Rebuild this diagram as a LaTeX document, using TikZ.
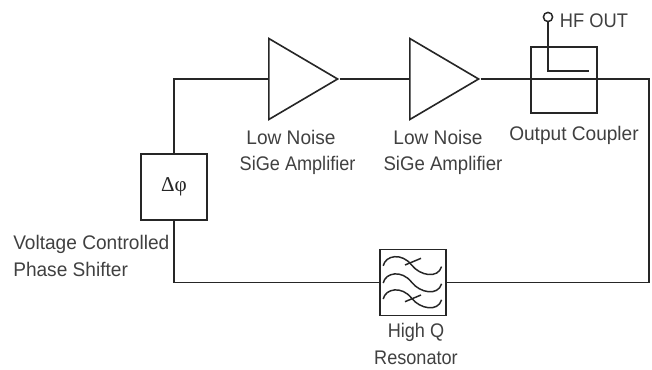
\documentclass[tikz,border=0pt]{standalone}
\usepackage{fontspec}
\usepackage{graphicx}
\setmainfont{Liberation Sans}
\newfontfamily\serifsym{Liberation Serif}
\usetikzlibrary{shapes.geometric}
\newcommand{\narrowtext}[2]{\scalebox{#1}[1]{#2}}
\tikzset{
  wire/.style={line width=1.05pt, black!85},
  blockbox/.style={draw, line width=1.15pt, black!85, minimum size=1.65cm, inner sep=0pt},
  amp/.style={draw, line width=1.15pt, black!85, isosceles triangle, isosceles triangle stretches, minimum width=2.025cm, minimum height=1.72cm, inner sep=0pt, anchor=lower side},
  caption/.style={black!75, align=center, inner sep=0pt, font=\fontsize{14}{19}\selectfont},
  ampcaption/.style={caption, anchor=base}
}
\begin{document}
\begin{tikzpicture}
  \useasboundingbox (0,0) rectangle (16.3,9.225);
  \node[blockbox] (phase) at (4.35, 4.55) {\fontsize{15}{15}\selectfont\serifsym Δφ};
  \node[amp] (amp1) at (6.7, 7.25) {};
  \node[amp] (amp2) at (10.225, 7.25) {};
  \node[blockbox] (coupler) at (14.1, 7.225) {};
  \node[blockbox] (reso) at (10.325, 2.16) {};
  \coordinate (topright) at (16.225, 7.25);
  \coordinate (botright) at (16.225, 2.16);
  \coordinate (hook) at (13.7, 7.45);
  \coordinate (hookend) at (14.725, 7.45);
  \node[draw, circle, line width=1.05pt, black!85, minimum size=0.23cm, inner sep=0pt] (hf) at (13.7, 8.8) {};
  \draw[wire] (phase.north) |- (amp1.lower side);
  \draw[wire] (amp1.apex) -- (amp2.lower side);
  \draw[wire] (amp2.apex) -- (topright) -- (botright) -- (reso.east);
  \draw[wire] (reso.west) -| (phase.south);
  \draw[wire] (hf) -- (hook) -- (hookend);
  \foreach \dy in {0.43, 0, -0.4} {
    \draw[wire, shift={(0,\dy)}] (9.58, 2.15) .. controls (9.64, 2.42) and (10.05, 2.48) .. (10.29, 2.17) .. controls (10.5, 1.9) and (10.95, 1.82) .. (11.04, 2.13);
  }
  \draw[wire] (10.125, 2.6) -- (10.525, 2.767);
  \draw[wire] (10.125, 1.683) -- (10.525, 1.85);
  \node[caption] (hflabel) at (14.85, 8.7) {\narrowtext{0.93}{HF OUT}};
  \node[ampcaption] (lna1a) at (7.275, 5.625) {\narrowtext{0.97}{Low Noise}};
  \node[ampcaption] (lna1b) at (7.44, 4.975) {\narrowtext{0.92}{SiGe Amplifier}};
  \node[ampcaption] (lna2a) at (10.95, 5.625) {\narrowtext{0.97}{Low Noise}};
  \node[ampcaption] (lna2b) at (11.075, 4.975) {\narrowtext{0.945}{SiGe Amplifier}};
  \node[caption] (couplerlabel) at (14.35, 5.85) {\narrowtext{0.97}{Output Coupler}};
  \node[caption] (resolabel) at (10.4, 0.63) {\narrowtext{0.92}{High Q}\\\narrowtext{0.92}{Resonator}};
  \node[caption, align=left, anchor=west] (phaselabel) at (0.325, 2.83) {\narrowtext{0.97}{Voltage Controlled}\\\narrowtext{0.97}{Phase Shifter}};
\end{tikzpicture}
\end{document}
